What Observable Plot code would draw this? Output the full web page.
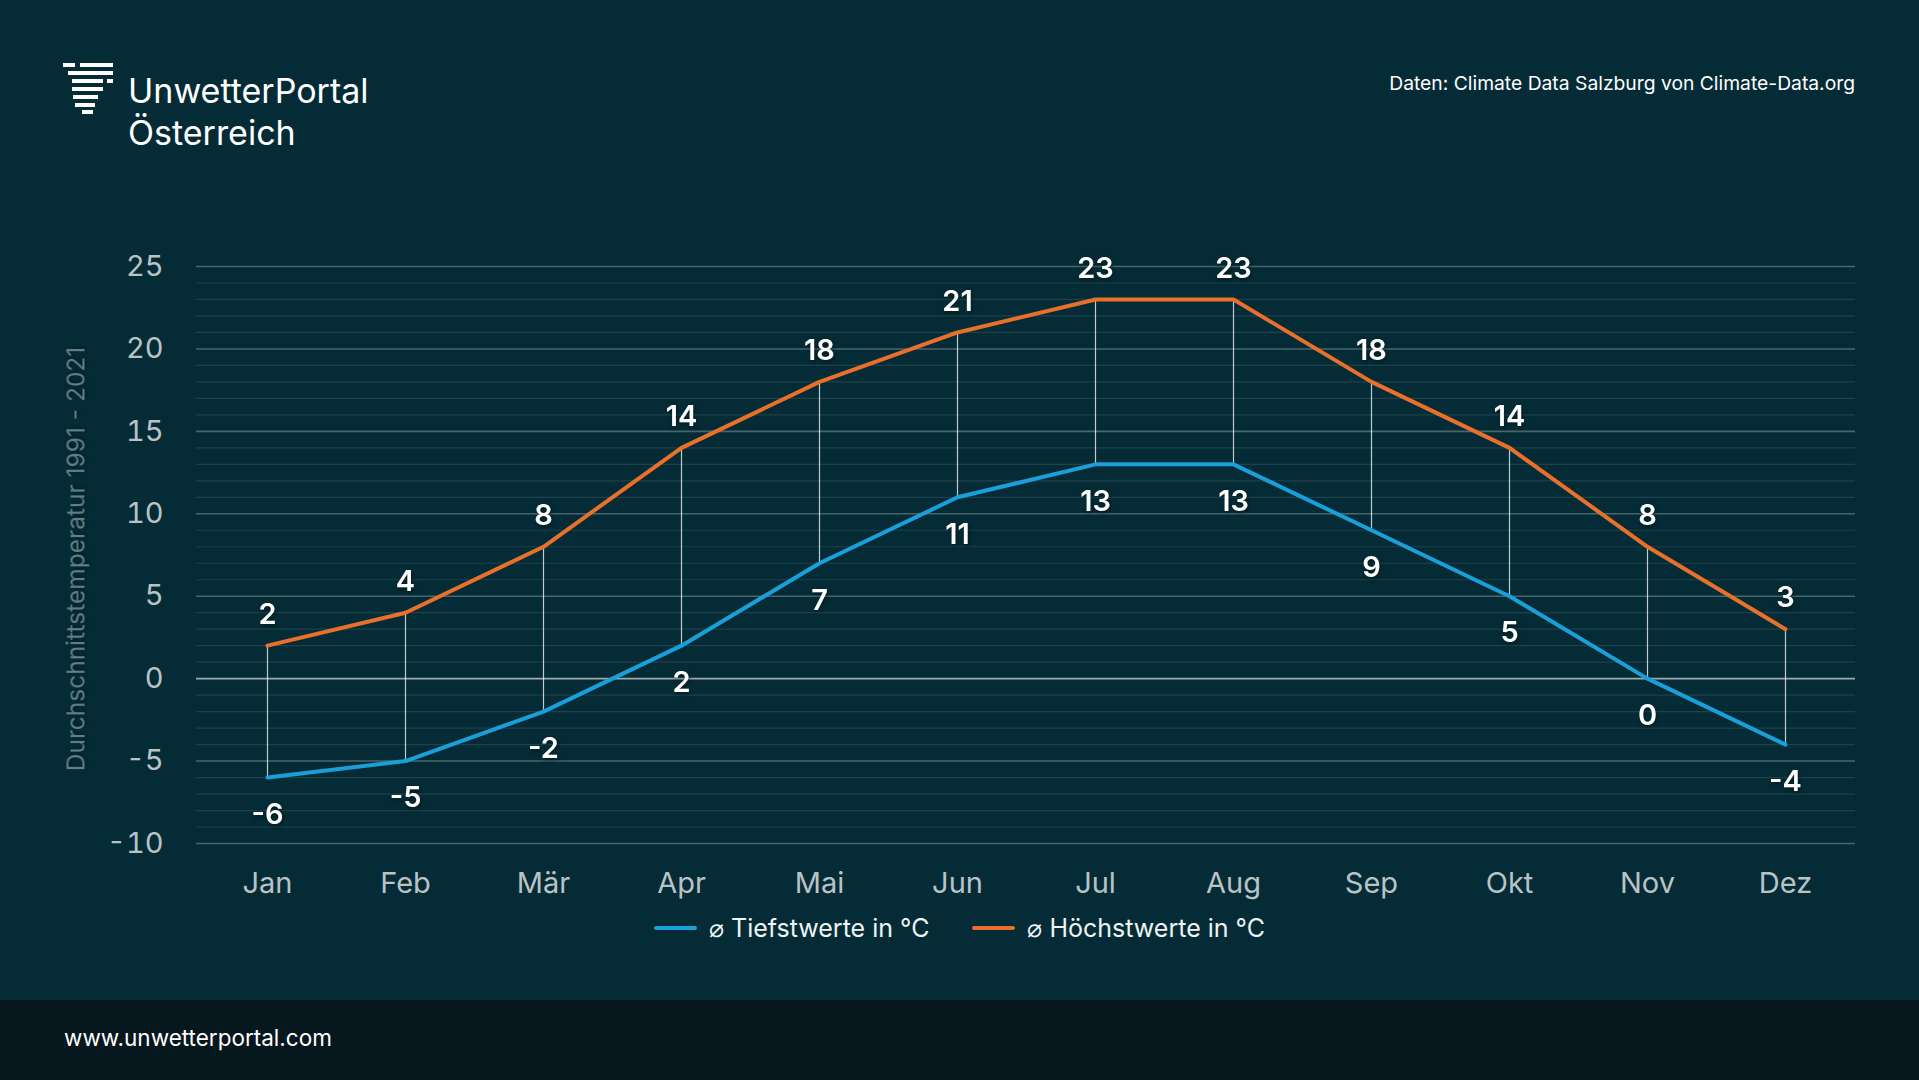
<!DOCTYPE html>
<html><head><meta charset="utf-8">
<script src="https://cdn.jsdelivr.net/npm/d3@7"></script>
<script src="https://cdn.jsdelivr.net/npm/@observablehq/plot@0.6"></script>
<style>
html,body{margin:0;padding:0;background:#052c36;}
#page{position:relative;width:1919px;height:1080px;background:#052c36;overflow:hidden;font-family:Inter,"Noto Sans",sans-serif;}
#chart{position:absolute;left:0;top:0;}
#footer{position:absolute;left:0;top:1000px;width:1919px;height:80px;background:#06171e;}
#footer span{position:absolute;left:64px;top:24px;font-size:22.5px;color:#ffffff;}
#logo{position:absolute;left:62px;top:62px;}
#brand{position:absolute;left:128px;top:70px;font-size:34px;line-height:42px;color:#ffffff;}
#source{position:absolute;right:64px;top:71px;font-size:19.3px;color:#ffffff;}
#legend{position:absolute;left:0;top:913px;width:1919px;display:flex;justify-content:center;gap:43px;font-size:25px;color:#eef3f4;}
.item{display:flex;align-items:center;gap:12px;}
.sw{width:43px;height:4px;border-radius:2px;}
#chart g[aria-label="text"] text{filter:drop-shadow(1px 2px 2px rgba(0,0,0,0.45));}
</style></head>
<body><div id="page">
<svg id="logo" width="56" height="56" viewBox="62 62 56 56">
  <g fill="#ffffff">
    <rect x="63" y="63" width="12" height="4"/><rect x="80" y="63" width="33" height="4"/>
    <rect x="68" y="71" width="45" height="4"/>
    <rect x="72" y="79" width="31" height="4"/><rect x="107" y="79" width="6" height="4"/>
    <rect x="72" y="87" width="31" height="4"/>
    <rect x="73" y="95" width="25" height="4"/>
    <rect x="75" y="103" width="20" height="4"/>
    <rect x="82" y="110" width="11" height="4"/>
  </g>
</svg>
<div id="brand">UnwetterPortal<br>Österreich</div>
<div id="source">Daten: Climate Data Salzburg von Climate-Data.org</div>
<div id="chart"></div>
<div id="legend">
  <div class="item"><div class="sw" style="background:#1a9fd8"></div><span>⌀ Tiefstwerte in °C</span></div>
  <div class="item"><div class="sw" style="background:#e8702b"></div><span>⌀ Höchstwerte in °C</span></div>
</div>
<div id="footer"><span>www.unwetterportal.com</span></div>
</div>
<script>
const months = ["Jan","Feb","Mär","Apr","Mai","Jun","Jul","Aug","Sep","Okt","Nov","Dez"];
const lowValues = [-6,-5,-2,2,7,11,13,13,9,5,0,-4];
const highValues = [2,4,8,14,18,21,23,23,18,14,8,3];
const majorTicks = [-10,-5,0,5,10,15,20,25];
const minorTicks = [-9,-8,-7,-6,-4,-3,-2,-1,1,2,3,4,6,7,8,9,11,12,13,14,16,17,18,19,21,22,23,24];
const yLabel = "Durchschnittstemperatur 1991 - 2021";

const table = months.map((m,i)=>({month:m, low:lowValues[i], high:highValues[i]}));

const chart = Plot.plot({
  width:1919, height:1000,
  marginLeft:196, marginRight:64, marginTop:266, marginBottom:157,
  style:{background:"transparent", fontFamily:"Inter, 'Noto Sans', sans-serif", color:"#b9c3c6", overflow:"visible"},
  x:{type:"point", domain:months, padding:0.5},
  y:{domain:[-10,25]},
  marks:[
    Plot.ruleY(minorTicks, {stroke:"#ffffff", strokeOpacity:0.1, strokeWidth:1.2}),
    Plot.ruleY(majorTicks.filter(d=>d!==0), {stroke:"#ffffff", strokeOpacity:0.27, strokeWidth:1.6}),
    Plot.ruleY([0], {stroke:"#ffffff", strokeOpacity:0.6, strokeWidth:1.6}),
    Plot.ruleX(table, {x:"month", y1:"low", y2:"high", stroke:"#ffffff", strokeOpacity:0.75, strokeWidth:1.2}),
    Plot.lineY(table, {x:"month", y:"low", stroke:"#1a9fd8", strokeWidth:4}),
    Plot.lineY(table, {x:"month", y:"high", stroke:"#e8702b", strokeWidth:4}),
    Plot.text(table, {x:"month", y:"high", text:d=>String(d.high), dy:-31, fill:"#ffffff", fontSize:29, fontWeight:600}),
    Plot.text(table, {x:"month", y:"low", text:d=>String(d.low), dy:37, fill:"#ffffff", fontSize:29, fontWeight:600}),
    Plot.axisY({ticks:majorTicks, tickFormat:d=>String(d), tickSize:0, tickPadding:33, fontSize:29, fill:"#b9c3c6", label:null}),
    Plot.axisX({tickSize:0, tickPadding:29, fontSize:29, fill:"#b9c3c6", label:null}),
    Plot.text([yLabel], {frameAnchor:"left", textAnchor:"middle", dx:-120, dy:4, rotate:-90, fill:"#5f7f88", fontSize:24.5})
  ]
});
document.getElementById("chart").appendChild(chart);
</script>
</body></html>
